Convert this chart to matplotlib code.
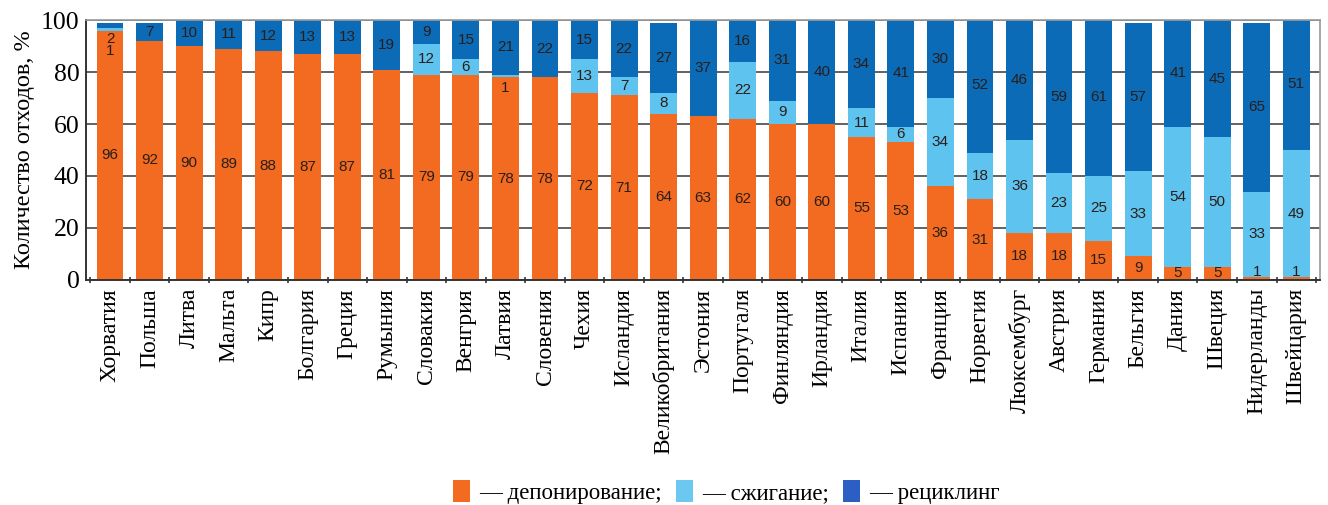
import matplotlib
matplotlib.use("Agg")
import matplotlib.pyplot as plt
from matplotlib.patches import Patch
import numpy as np

countries = ["Хорватия", "Польша", "Литва", "Мальта", "Кипр", "Болгария", "Греция",
             "Румыния", "Словакия", "Венгрия", "Латвия", "Словения", "Чехия", "Исландия",
             "Великобритания", "Эстония", "Португаля", "Финляндия", "Ирландия", "Италия",
             "Испания", "Франция", "Норвегия", "Люксембург", "Австрия", "Германия",
             "Бельгия", "Дания", "Швеция", "Нидерланды", "Швейцария"]
landfill = [96, 92, 90, 89, 88, 87, 87, 81, 79, 79, 78, 78, 72, 71, 64, 63, 62, 60, 60,
            55, 53, 36, 31, 18, 18, 15, 9, 5, 5, 1, 1]
incineration = [1, 0, 0, 0, 0, 0, 0, 0, 12, 6, 1, 0, 13, 7, 8, 0, 22, 9, 0, 11, 6, 34,
                18, 36, 23, 25, 33, 54, 50, 33, 49]
recycling = [2, 7, 10, 11, 12, 13, 13, 19, 9, 15, 21, 22, 15, 22, 27, 37, 16, 31, 40,
             34, 41, 30, 52, 46, 59, 61, 57, 41, 45, 65, 51]
y_ticks = [0, 20, 40, 60, 80, 100]
legend_labels = ["— депонирование;", "— сжигание;", "— рециклинг"]
y_label = "Количество отходов, %"

c_land = "#f26b21"
c_inc = "#5ec4ef"
c_rec = "#0b6bb6"
legend_colors = [c_land, "#6cc8f0", "#2b5fc3"]
txt_color = "#2a1e1a"

serif = ["Liberation Serif", "DejaVu Serif"]
sans = ["Liberation Sans", "DejaVu Sans"]

fig = plt.figure(figsize=(13.28, 5.05), dpi=100)
ax = fig.add_axes([0.065, 0.446, 0.929, 0.514])

x = np.arange(len(countries))
land = np.array(landfill, dtype=float)
inc = np.array(incineration, dtype=float)
rec = np.array(recycling, dtype=float)
w = 0.68

ax.set_axisbelow(True)
ax.yaxis.grid(True, color="#555555", linewidth=1.3)
ax.bar(x, land, w, color=c_land, zorder=2)
ax.bar(x, inc, w, bottom=land, color=c_inc, zorder=2)
ax.bar(x, rec, w, bottom=land + inc, color=c_rec, zorder=2)


def put(xi, yi, val):
    ax.text(xi, yi, f"{int(val)}", ha="center", va="center", fontsize=11,
            color=txt_color, family=sans, zorder=3)


# value labels centred in each segment; tiny segments get their labels nudged
for i in range(len(countries)):
    l, c, r = land[i], inc[i], rec[i]
    if l >= 3:
        put(x[i], l / 2, l)
    elif l > 0:
        put(x[i], 3, l)
    if c > 0:
        if c >= 5:
            cy = l + c / 2
        elif r < 5:
            cy = l - 7.8
        else:
            cy = l - 4
        put(x[i], cy, c)
    if r > 0:
        ry = l + c + r / 2 if r >= 5 else l - 3.2
        put(x[i], ry, r)

ax.set_xlim(-0.6, len(countries) - 0.4)
ax.set_ylim(0, 100)
ax.set_yticks(y_ticks)
ax.set_yticklabels([str(v) for v in y_ticks], family=serif, fontsize=18.5)
ax.tick_params(axis="y", length=0, pad=5)
ax.set_xticks(x)
ax.set_xticklabels(countries, rotation=90, family=serif, fontsize=17)
ax.tick_params(axis="x", which="major", length=0, pad=6)
ax.set_xticks(np.arange(-0.5, len(countries), 1.0), minor=True)
ax.tick_params(axis="x", which="minor", length=5, width=1.2, direction="inout", color="#333333")
ax.set_ylabel(y_label, family=serif, fontsize=17.5, labelpad=4)

for s in ["left", "bottom"]:
    ax.spines[s].set_color("#333333")
    ax.spines[s].set_linewidth(1.4)
for s in ["top", "right"]:
    ax.spines[s].set_color("#9a9a9a")
    ax.spines[s].set_linewidth(1.2)

handles = [Patch(facecolor=cc, edgecolor="none") for cc in legend_colors]
fig.legend(handles, legend_labels, loc="center", bbox_to_anchor=(0.547, 0.026),
           ncol=3, frameon=False, prop={"family": serif, "size": 16.5},
           handlelength=0.75, handleheight=1.1, handletextpad=0.4, columnspacing=0.6,
           borderpad=0.1)

fig.savefig("out.png", dpi=100)
